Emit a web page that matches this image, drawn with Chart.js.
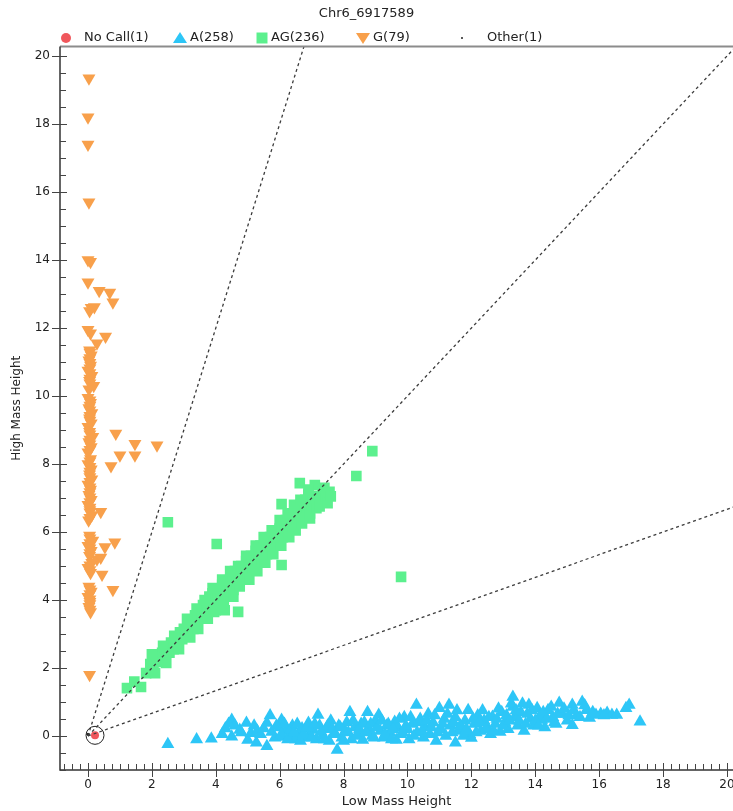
<!DOCTYPE html>
<html>
<head>
<meta charset="utf-8">
<title>Chr6_6917589</title>
<script src="https://cdn.jsdelivr.net/npm/chart.js@4.4.1/dist/chart.umd.min.js"></script>
<style>
  html, body { margin: 0; padding: 0; background: #fff; }
  #wrap { width: 733px; height: 811px; }
</style>
</head>
<body>
<div id="wrap"><canvas id="chart" width="733" height="811"></canvas></div>
<script>
// Series names and counts shown in the legend
const seriesNames = ['No Call', 'A', 'AG', 'G', 'Other'];
const seriesCounts = [1, 258, 236, 79, 1];

// Tick labels
const xTicks = [0, 2, 4, 6, 8, 10, 12, 14, 16, 18, 20];
const yTicks = [0, 2, 4, 6, 8, 10, 12, 14, 16, 18, 20];

// Cluster boundary slopes (high / low)
const boundarySlopes = [3, 1, 1 / 3];

// No Call
const noCallLow = [0.22];
const noCallHigh = [0.02];

// Other
const otherLow = [0.0];
const otherHigh = [0.05];

// G (high mass only)
const gLow = [0.03, 0.00, 0.00, 0.03, 0.00, 0.08, 0.00, 0.35, 0.68, 0.78, 0.10, 0.20, 0.05, 0.00, 0.08, 0.55, 0.28,
  0.05, 0.10, 0.03, 0.08, 0.00, 0.12, 0.05, 0.18, 0.03, 0.00, 0.08, 0.03, 0.12, 0.05, 0.10, 0.00, 0.87, 0.05,
  0.15, 0.03, 0.10, 1.47, 2.16, 0.00, 1.00, 1.47, 0.08, 0.72, 0.00, 0.10, 0.05, 0.12, 0.00, 0.08, 0.03, 0.10,
  0.00, 0.40, 0.06, 0.12, 0.02, 0.05, 0.84, 0.15, 0.53, 0.00, 0.10, 0.28, 0.40, 0.05, 0.12, 0.00, 0.44, 0.08,
  0.78, 0.03, 0.10, 0.00, 0.06, 0.03, 0.08, 0.05,
  0.06, 0.06, 0.06, 0.06, 0.06, 0.06, 0.06, 0.06, 0.06, 0.06, 0.06, 0.06, 0.06, 0.06, 0.06, 0.06, 0.06, 0.06,
  0.06, 0.06, 0.06, 0.06, 0.06, 0.06, 0.06, 0.06, 0.06, 0.06, 0.06, 0.06, 0.06, 0.06, 0.06, 0.06, 0.06, 0.06,
  0.06, 0.06, 0.06];
const gHigh = [19.35, 18.20, 17.40, 15.70, 14.00, 13.95, 13.35, 13.10, 13.05, 12.76, 12.60, 12.62, 12.50, 11.95, 11.85, 11.75, 11.55,
  11.35, 11.20, 11.05, 10.90, 10.75, 10.60, 10.45, 10.30, 10.20, 9.95, 9.80, 9.65, 9.50, 9.35, 9.20, 9.10, 8.90, 8.95,
  8.80, 8.65, 8.50, 8.60, 8.55, 8.35, 8.26, 8.26, 8.15, 7.94, 8.00, 7.85, 7.70, 7.55, 7.40, 7.25, 7.10, 6.95,
  6.80, 6.60, 6.65, 6.50, 6.35, 5.90, 5.70, 5.75, 5.56, 5.60, 5.45, 5.20, 5.25, 5.30, 5.10, 4.95, 4.75, 4.80,
  4.30, 4.40, 4.25, 4.10, 3.95, 3.80, 3.65, 1.80,
  11.28, 11.12, 10.98, 10.82, 10.68, 10.52, 10.38, 9.88, 9.72, 9.58, 9.42, 9.28, 8.88, 8.72, 8.58, 8.42, 8.08, 7.92,
  7.78, 7.62, 7.48, 7.32, 7.18, 7.02, 6.88, 6.72, 6.58, 6.42, 5.82, 5.68, 5.52, 5.38, 5.02, 4.88, 4.32, 4.18,
  4.02, 3.88, 3.72];

// AG (heterozygous)
const agLow = [1.22, 1.66, 1.82, 1.95, 2.05, 2.15, 2.25, 2.32, 2.40, 2.48, 2.55, 2.60, 2.68, 2.75, 2.80, 2.88, 2.95,
  3.00, 3.05, 3.12, 3.18, 3.25, 3.30, 3.35, 3.42, 3.50, 3.55, 3.60, 3.65, 3.70, 3.75, 3.80, 3.85, 3.90, 3.95,
  4.00, 4.05, 4.10, 4.15, 4.20, 4.28, 4.30, 4.35, 4.40, 4.45, 4.50, 4.55, 4.60, 4.65, 4.70, 4.72, 4.80, 4.85,
  4.90, 4.95, 5.00, 5.05, 5.10, 5.15, 5.20, 5.25, 5.30, 5.35, 5.40, 5.45, 5.50, 5.55, 5.60, 5.65, 5.70, 5.75,
  5.80, 5.85, 5.90, 5.95, 6.00, 6.06, 6.06, 6.10, 6.15, 6.20, 6.25, 6.30, 6.35, 6.40, 6.45, 6.50, 6.55, 6.60,
  6.63, 6.70, 6.75, 6.80, 6.85, 6.90, 6.95, 7.00, 7.10, 7.05, 7.15, 7.20, 7.30, 7.35, 7.45, 7.56, 2.50, 4.03,
  8.40, 8.90, 9.80,
  1.45, 2.00, 2.10, 2.35, 2.45, 2.70, 2.85, 3.10, 3.20, 3.40, 3.45, 3.65, 3.75, 3.90, 4.00, 4.20, 4.25, 4.45,
  4.55, 4.70, 4.75, 4.95, 5.05, 5.25, 5.30, 5.50, 5.55, 5.75, 5.80, 6.00, 6.05, 6.25, 6.30, 6.45, 6.50, 6.65,
  6.70, 6.90, 6.95, 7.10, 7.25, 7.40, 7.50, 7.60];
const agHigh = [1.41, 1.44, 1.85, 2.12, 1.98, 2.30, 2.18, 2.45, 2.30, 2.60, 2.45, 2.75, 2.55, 2.90, 2.70, 3.05, 2.85,
  3.15, 2.95, 3.25, 3.05, 3.40, 3.15, 3.55, 3.30, 3.70, 3.45, 3.85, 3.55, 3.95, 3.70, 4.10, 3.80, 4.20, 3.65,
  4.00, 4.30, 3.85, 4.15, 4.45, 3.70, 4.20, 4.55, 4.10, 4.40, 4.70, 4.30, 4.85, 4.50, 3.65, 4.65, 5.00, 4.60,
  4.85, 5.15, 4.75, 5.05, 5.30, 4.95, 5.20, 5.45, 5.10, 5.35, 5.60, 5.20, 5.50, 5.75, 5.35, 5.65, 5.85, 5.45,
  5.75, 6.00, 5.60, 5.90, 6.10, 5.03, 6.82, 5.85, 6.15, 6.35, 6.00, 6.30, 6.50, 6.15, 6.45, 6.65, 6.30, 6.60,
  7.44, 6.80, 6.45, 6.95, 6.70, 7.10, 6.55, 6.85, 7.38, 7.00, 6.70, 7.05, 6.90, 7.20, 7.00, 7.18, 6.29, 5.65,
  7.65, 8.38, 4.68,
  1.60, 2.40, 1.85, 2.65, 2.15, 2.95, 2.55, 3.45, 2.90, 3.75, 3.15, 4.00, 3.45, 4.35, 3.70, 4.60, 4.00, 4.85,
  4.10, 5.00, 4.40, 5.30, 4.60, 5.60, 4.85, 5.85, 5.10, 6.05, 5.35, 6.35, 5.60, 6.55, 5.85, 6.80, 6.05, 6.95,
  6.25, 7.25, 6.40, 7.00, 6.75, 7.30, 6.85, 7.05];

// A (low mass only)
const aLow = [2.50, 3.40, 3.86, 4.30, 4.50, 4.50, 4.60, 4.75, 4.96, 5.00, 5.10, 5.27, 5.40, 5.60, 5.60, 5.70, 5.75,
  5.85, 6.00, 6.06, 6.10, 6.20, 6.30, 6.40, 6.50, 6.60, 6.70, 6.80, 6.90, 6.95, 7.05, 7.15, 7.20, 7.25, 7.35,
  7.45, 7.55, 7.60, 7.70, 7.80, 7.85, 7.95, 8.05, 8.10, 8.20, 8.25, 8.35, 8.45, 8.55, 8.60, 8.75, 8.80, 8.90,
  9.00, 9.10, 9.15, 9.25, 9.35, 9.45, 9.60, 9.65, 9.70, 9.80, 9.90, 10.00, 10.05, 10.15, 10.28, 10.30, 10.40,
  10.50, 10.55, 10.65, 10.70, 10.80, 10.90, 11.00, 11.05, 11.15, 11.20, 11.30, 11.35, 11.50, 11.50, 11.60,
  11.70, 11.80, 11.90, 11.95, 12.00, 12.10, 12.20, 12.30, 12.40, 12.50, 12.60, 12.66, 12.75, 12.90, 12.95,
  13.05, 13.15, 13.30, 13.30, 13.35, 13.45, 13.55, 13.65, 13.80, 13.85, 13.95, 14.06, 14.15, 14.20, 14.30,
  14.40, 14.55, 14.65, 14.75, 14.85, 15.00, 15.16, 15.16, 15.30, 15.47, 15.60, 15.70, 15.90, 16.05, 16.25,
  16.40, 16.84, 16.94, 17.28,
  4.20, 4.40, 4.80, 5.20, 5.30, 5.50, 5.90, 6.05, 6.15, 6.25, 6.35, 6.45, 6.55, 6.65, 6.75, 6.85, 7.00, 7.10,
  7.30, 7.40, 7.50, 7.65, 7.75, 7.90, 8.00, 8.15, 8.30, 8.40, 8.50, 8.65, 8.70, 8.85, 8.95, 9.05, 9.20, 9.30,
  9.40, 9.50, 9.55, 9.75, 9.85, 9.95, 10.10, 10.20, 10.35, 10.45, 10.60, 10.75, 10.85, 10.95, 11.10, 11.25,
  11.40, 11.45, 11.55, 11.65, 11.75, 11.85, 12.05, 12.15, 12.25, 12.35, 12.45, 12.55, 12.70, 12.80, 12.85,
  13.00, 13.10, 13.20, 13.25, 13.40, 13.50, 13.60, 13.70, 13.75, 13.90, 14.00, 14.10, 14.25, 14.35, 14.50,
  14.60, 14.70, 14.90, 15.05, 15.20, 15.40, 15.55, 15.80, 16.15, 16.55];
const aHigh = [-0.24, -0.10, -0.08, 0.22, 0.47, -0.02, 0.30, 0.18, 0.38, -0.12, 0.08, -0.20, 0.05, -0.30, 0.38, 0.60, 0.12,
  -0.05, 0.25, 0.47, -0.03, 0.15, 0.00, 0.30, -0.10, 0.09, 0.22, -0.05, 0.38, 0.05, 0.18, -0.10, 0.62, 0.30, 0.02,
  0.20, -0.15, 0.45, 0.08, -0.41, 0.30, -0.05, 0.15, 0.40, 0.70, -0.10, 0.25, 0.05, 0.35, -0.12, 0.70, 0.20, 0.00,
  0.45, 0.62, 0.15, -0.05, 0.30, 0.10, 0.41, -0.12, 0.25, 0.05, 0.55, 0.20, -0.10, 0.35, 0.91, 0.10, 0.50,
  -0.05, 0.25, 0.65, 0.05, 0.40, -0.15, 0.82, 0.20, 0.50, 0.00, 0.91, 0.30, -0.20, 0.55, 0.15,
  0.26, 0.45, 0.76, 0.05, -0.06, 0.35, 0.60, 0.15, 0.45, 0.25, 0.05, 0.56, 0.35, 0.12, 0.70,
  0.40, 0.20, 1.15, 0.85, 0.55, 0.30, 0.70, 0.15, 0.91, 0.50, 0.30, 0.82, 0.60, 0.47, 0.25,
  0.76, 0.55, 0.35, 0.97, 0.65, 0.45, 0.91, 0.32, 0.60, 1.00, 0.76, 0.53, 0.62, 0.65, 0.68,
  0.62, 0.82, 0.91, 0.42,
  0.05, 0.35, 0.10, 0.30, 0.15, 0.22, 0.30, 0.05, 0.35, -0.10, 0.20, 0.10, 0.35, -0.15, 0.05, 0.25, -0.05, 0.35,
  0.12, -0.10, 0.30, 0.20, 0.05, 0.25, -0.15, 0.10, 0.45, 0.00, 0.20, 0.40, 0.10, 0.35, -0.05, 0.25, 0.45, 0.05,
  0.35, -0.10, 0.20, 0.50, 0.10, 0.30, 0.55, 0.00, 0.40, 0.15, 0.45, 0.25, 0.60, 0.10, 0.35, 0.65,
  0.10, 0.40, 0.75, 0.30, 0.00, 0.20, 0.50, 0.10, 0.40, 0.75, 0.20, 0.55, 0.15, 0.50, 0.80,
  0.30, 0.60, 0.45, 0.95, 0.75, 0.45, 0.95, 0.35, 0.65, 0.75, 0.45, 0.30, 0.70, 0.50, 0.85,
  0.40, 0.65, 0.80, 0.60, 0.75, 0.55, 0.90, 0.70, 0.60, 0.62];

const colors = {
  noCall: '#f0575c',
  a: '#2dc6f7',
  ag: '#5cf08e',
  g: '#f8a04b',
  other: '#222222',
  line: '#3c3c3c'
};

const FONT = 'DejaVu Sans';

function toPoints(xs, ys) {
  return xs.map((x, i) => ({ x: x, y: ys[i] }));
}

// Axis frame with major/minor ticks, drawn through the scales
const axisFrame = {
  id: 'axisFrame',
  afterDraw(chart) {
    const { ctx, chartArea: area, scales } = chart;
    const xs = scales.x, ys = scales.y;
    ctx.save();
    ctx.strokeStyle = '#8c8c8c';
    ctx.lineWidth = 2;
    ctx.beginPath();
    ctx.moveTo(area.left, area.top);
    ctx.lineTo(area.right, area.top);
    ctx.stroke();

    ctx.strokeStyle = '#333';
    ctx.lineWidth = 1.5;
    ctx.beginPath();
    ctx.moveTo(area.left, area.top);
    ctx.lineTo(area.left, area.bottom);
    ctx.lineTo(area.right, area.bottom);
    ctx.stroke();

    ctx.lineWidth = 1;
    ctx.strokeStyle = '#444';
    ctx.beginPath();
    for (let v = Math.ceil(ys.min * 2) / 2; v <= ys.max; v += 0.5) {
      const py = Math.round(ys.getPixelForValue(v)) + 0.5;
      if (yTicks.includes(v)) {
        ctx.moveTo(area.left - 8, py);
        ctx.lineTo(area.left + 7, py);
      } else {
        ctx.moveTo(area.left, py);
        ctx.lineTo(area.left + 6, py);
      }
    }
    for (let v = Math.ceil(xs.min * 4) / 4; v <= xs.max; v += 0.25) {
      const px = Math.round(xs.getPixelForValue(v)) + 0.5;
      if (xTicks.includes(v)) {
        ctx.moveTo(px, area.bottom - 7);
        ctx.lineTo(px, area.bottom + 7);
      } else {
        ctx.moveTo(px, area.bottom - 6);
        ctx.lineTo(px, area.bottom);
      }
    }
    ctx.stroke();
    ctx.restore();
  }
};

// Legend row under the title
const legendIconX = [66, 180, 262, 363, 462];
const legendTextX = [84, 190, 271, 373, 487];
const legendRow = {
  id: 'legendRow',
  afterDraw(chart) {
    const { ctx } = chart;
    const y = 38;
    const fills = [colors.noCall, colors.a, colors.ag, colors.g, colors.other];
    ctx.save();
    seriesNames.forEach((name, i) => {
      const cx = legendIconX[i];
      ctx.fillStyle = fills[i];
      ctx.beginPath();
      if (i === 0) {
        ctx.arc(cx, y, 5, 0, Math.PI * 2);
      } else if (i === 1) {
        ctx.moveTo(cx, y - 6);
        ctx.lineTo(cx + 7, y + 5);
        ctx.lineTo(cx - 7, y + 5);
      } else if (i === 2) {
        ctx.rect(cx - 5.5, y - 5.5, 11, 11);
      } else if (i === 3) {
        ctx.moveTo(cx - 7, y - 5);
        ctx.lineTo(cx + 7, y - 5);
        ctx.lineTo(cx, y + 6);
      } else {
        ctx.arc(cx, y, 1, 0, Math.PI * 2);
      }
      ctx.closePath();
      ctx.fill();
      ctx.fillStyle = '#222';
      ctx.font = '13px "' + FONT + '"';
      ctx.textBaseline = 'middle';
      ctx.textAlign = 'left';
      ctx.fillText(name + '(' + seriesCounts[i] + ')', legendTextX[i], y);
    });
    ctx.restore();
  }
};

const boundaryDatasets = boundarySlopes.map(s => ({
  type: 'line',
  label: 'boundary',
  data: [{ x: 0, y: 0 }, { x: 25, y: 25 * s }],
  showLine: true,
  borderColor: colors.line,
  borderWidth: 1.3,
  borderDash: [3, 3],
  pointRadius: 0,
  fill: false,
  order: 0
}));

const ctx = document.getElementById('chart').getContext('2d');
new Chart(ctx, {
  type: 'scatter',
  data: {
    datasets: [
      ...boundaryDatasets,
      {
        label: 'selection',
        data: toPoints(noCallLow, noCallHigh),
        pointStyle: 'circle',
        pointRadius: 9,
        backgroundColor: 'rgba(0,0,0,0)',
        borderColor: '#222',
        borderWidth: 1,
        order: 1
      },
      {
        label: seriesNames[0],
        data: toPoints(noCallLow, noCallHigh),
        pointStyle: 'circle',
        pointRadius: 4,
        backgroundColor: colors.noCall,
        borderWidth: 0,
        order: 2
      },
      {
        label: seriesNames[1],
        data: toPoints(aLow, aHigh),
        pointStyle: 'triangle',
        pointRadius: 7.5,
        backgroundColor: colors.a,
        borderWidth: 0,
        order: 3
      },
      {
        label: seriesNames[2],
        data: toPoints(agLow, agHigh),
        pointStyle: 'rect',
        pointRadius: 7.5,
        backgroundColor: colors.ag,
        borderWidth: 0,
        order: 4
      },
      {
        label: seriesNames[3],
        data: toPoints(gLow, gHigh),
        pointStyle: 'triangle',
        pointRotation: 180,
        pointRadius: 7.5,
        backgroundColor: colors.g,
        borderWidth: 0,
        order: 5
      },
      {
        label: seriesNames[4],
        data: toPoints(otherLow, otherHigh),
        pointStyle: 'circle',
        pointRadius: 1.5,
        backgroundColor: colors.other,
        borderWidth: 0,
        order: 6
      }
    ]
  },
  options: {
    responsive: false,
    animation: false,
    events: [],
    layout: { padding: 0, autoPadding: false },
    plugins: {
      legend: { display: false },
      tooltip: { enabled: false },
      title: {
        display: true,
        text: 'Chr6_6917589',
        color: '#222',
        font: { family: FONT, size: 13, weight: 'normal' },
        padding: { top: 6, bottom: 25 }
      }
    },
    scales: {
      x: {
        type: 'linear',
        min: -0.876,
        max: 20.19,
        afterBuildTicks: s => { s.ticks = xTicks.map(v => ({ value: v })); },
        afterFit: s => { s.height = 41; s.paddingLeft = 0; s.paddingRight = 0; },
        grid: { display: false, drawTicks: false },
        border: { display: false },
        ticks: {
          autoSkip: false,
          maxRotation: 0,
          padding: 8,
          color: '#222',
          font: { family: FONT, size: 12 }
        },
        title: {
          display: true,
          text: 'Low Mass Height',
          color: '#222',
          font: { family: FONT, size: 13 },
          padding: { top: 0, bottom: 2 }
        }
      },
      y: {
        type: 'linear',
        min: -1,
        max: 20.28,
        afterBuildTicks: s => { s.ticks = yTicks.map(v => ({ value: v })); },
        afterFit: s => { s.width = 60; s.paddingTop = 0; s.paddingBottom = 0; },
        grid: { display: false, drawTicks: false },
        border: { display: false },
        ticks: {
          autoSkip: false,
          padding: 10,
          color: '#222',
          font: { family: FONT, size: 12 }
        },
        title: {
          display: true,
          text: 'High Mass Height',
          color: '#222',
          font: { family: FONT, size: 12 },
          padding: { top: 10, bottom: 0 }
        }
      }
    }
  },
  plugins: [axisFrame, legendRow]
});
</script>
</body>
</html>
